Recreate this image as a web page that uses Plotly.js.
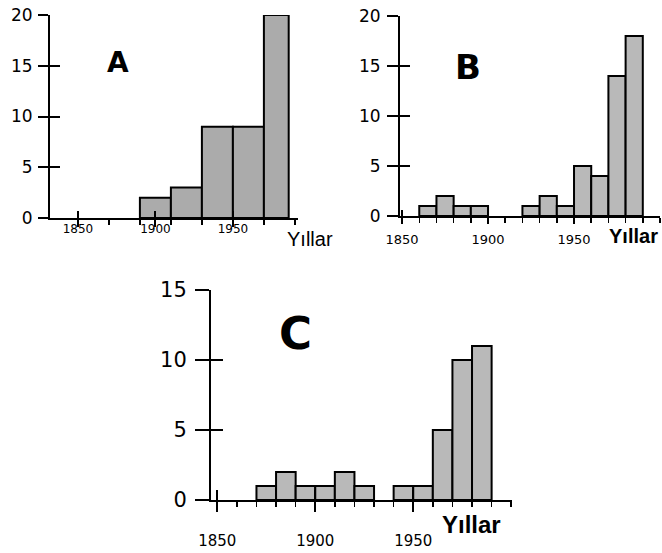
<!DOCTYPE html>
<html>
<head>
<meta charset="utf-8">
<script src="https://cdn.plot.ly/plotly-3.0.1.min.js"></script>
<style>html,body{margin:0;padding:0;background:#fff;}#chart{width:662px;height:553px;}</style>
</head>
<body>
<div id="chart"></div>
<script>
// ---- Data ----
const binStartA = [1890, 1910, 1930, 1950, 1970];
const binEndA   = [1910, 1930, 1950, 1970, 1986];
const countsA   = [2, 3, 9, 9, 20];

const binStartB = [1860, 1870, 1880, 1890, 1920, 1930, 1940, 1950, 1960, 1970, 1980];
const binEndB   = [1870, 1880, 1890, 1900, 1930, 1940, 1950, 1960, 1970, 1980, 1990];
const countsB   = [1, 2, 1, 1, 1, 2, 1, 5, 4, 14, 18];

const binStartC = [1870, 1880, 1890, 1900, 1910, 1920, 1940, 1950, 1960, 1970, 1980];
const binEndC   = [1880, 1890, 1900, 1910, 1920, 1930, 1950, 1960, 1970, 1980, 1990];
const countsC   = [1, 2, 1, 1, 2, 1, 1, 1, 5, 10, 11];

const xTickVals  = [1850, 1900, 1950];
const xTickText  = ['1850', '1900', '1950'];
const panelNames = ['A', 'B', 'C'];
const xTitle     = 'Yıllar';

// ---- Helpers ----
const W = 662, H = 553;
const px = v => v / W;
const py = v => 1 - v / H;

function barTrace(starts, ends, counts, xa, ya, color) {
  return {
    type: 'bar',
    x: starts.map((s, i) => (s + ends[i]) / 2),
    width: starts.map((s, i) => ends[i] - s),
    y: counts,
    xaxis: xa, yaxis: ya,
    marker: { color: color, line: { color: '#000', width: 2 } },
    hoverinfo: 'x+y', showlegend: false
  };
}
function emptyTrace(xa, ya) {
  return { type: 'scatter', mode: 'markers', x: [], y: [], xaxis: xa, yaxis: ya, showlegend: false, hoverinfo: 'skip' };
}

const traces = [
  barTrace(binStartA, binEndA, countsA, 'x', 'y', '#ababab'),
  barTrace(binStartB, binEndB, countsB, 'x2', 'y2', '#b9b9b9'),
  barTrace(binStartC, binEndC, countsC, 'x3', 'y3', '#b9b9b9'),
  emptyTrace('x4', 'y4'), emptyTrace('x5', 'y5'), emptyTrace('x6', 'y6')
];

const tickFont = 'DejaVu Sans, Arial, sans-serif';

function mainX(range, dom, anchor, fs, len, minorD, standoff) {
  return {
    domain: dom, range: range, anchor: anchor, showline: true, linecolor: '#000', linewidth: 2,
    showgrid: false, zeroline: false, fixedrange: true,
    tickmode: 'array', tickvals: xTickVals, ticktext: xTickText,
    ticks: 'outside', ticklen: len, tickwidth: 2, tickcolor: '#000',
    minor: { tick0: 1850, dtick: minorD, ticks: 'outside', ticklen: 5, tickwidth: 1.5, tickcolor: '#000', showgrid: false },
    tickfont: { family: tickFont, size: fs, color: '#000' }, ticklabelstandoff: standoff
  };
}
function mainY(range, dom, anchor, fs, len, standoff) {
  return {
    domain: dom, range: range, anchor: anchor, showline: true, linecolor: '#000', linewidth: 2,
    showgrid: false, zeroline: false, fixedrange: true,
    tick0: 0, dtick: 5, ticks: 'outside', ticklen: len, tickwidth: 2, tickcolor: '#000',
    tickfont: { family: tickFont, size: fs, color: '#000' }, ticklabelstandoff: standoff
  };
}
function overX(range, over, anchor, len) {
  return {
    overlaying: over, anchor: anchor, range: range, showline: false, showgrid: false, zeroline: false,
    tickmode: 'array', tickvals: xTickVals, ticks: 'inside', ticklen: len, tickwidth: 2, tickcolor: '#000',
    showticklabels: false, fixedrange: true
  };
}
function overY(range, over, anchor, len) {
  return {
    overlaying: over, anchor: anchor, range: range, showline: false, showgrid: false, zeroline: false,
    tick0: 0, dtick: 5, ticks: 'inside', ticklen: len, tickwidth: 2, tickcolor: '#000',
    showticklabels: false, fixedrange: true
  };
}

const rA = [1832, 1992], rB = [1848.8, 2000], rC = [1846.8, 2000.4];

const layout = {
  width: W, height: H,
  margin: { l: 0, r: 0, t: 0, b: 0 },
  paper_bgcolor: '#fff', plot_bgcolor: 'rgba(0,0,0,0)',
  showlegend: false, bargap: 0,
  xaxis:  mainX(rA, [px(50), px(298)], 'y', 12, 7, 20, -8),
  yaxis:  mainY([0, 20], [py(218), py(15)], 'x', 17, 10, 2),
  xaxis2: mainX(rB, [px(400), px(660)], 'y2', 13, 6, 10, 4),
  yaxis2: mainY([0, 20], [py(216), py(16)], 'x2', 17, 11, 3),
  xaxis3: mainX(rC, [px(211), px(512)], 'y3', 15, 10, 10, 16),
  yaxis3: mainY([0, 15], [py(500), py(290)], 'x3', 21, 14, 4),
  xaxis4: overX(rA, 'x', 'y4', 7),
  yaxis4: overY([0, 20], 'y', 'x4', 10),
  xaxis5: overX(rB, 'x2', 'y5', 6),
  yaxis5: overY([0, 20], 'y2', 'x5', 10),
  xaxis6: overX(rC, 'x3', 'y6', 10),
  yaxis6: overY([0, 15], 'y3', 'x6', 12),
  annotations: [
    { text: '<b>' + panelNames[0] + '</b>', x: px(118), y: py(63), xref: 'paper', yref: 'paper', showarrow: false, xanchor: 'center', yanchor: 'middle', font: { family: 'DejaVu Sans, Arial', size: 28, color: '#000' } },
    { text: '<b>' + panelNames[1] + '</b>', x: px(468), y: py(67), xref: 'paper', yref: 'paper', showarrow: false, xanchor: 'center', yanchor: 'middle', font: { family: 'DejaVu Sans, Arial', size: 34, color: '#000' } },
    { text: '<b>' + panelNames[2] + '</b>', x: px(295), y: py(333), xref: 'paper', yref: 'paper', showarrow: false, xanchor: 'center', yanchor: 'middle', font: { family: 'DejaVu Sans, Arial', size: 45, color: '#000' } },
    { text: xTitle, x: px(285), y: py(239), xref: 'paper', yref: 'paper', showarrow: false, xanchor: 'left', yanchor: 'middle', font: { family: 'Liberation Sans, Arial', size: 20, color: '#000' } },
    { text: '<b>' + xTitle + '</b>', x: px(660), y: py(236), xref: 'paper', yref: 'paper', showarrow: false, xanchor: 'right', yanchor: 'middle', font: { family: 'Liberation Sans, Arial', size: 20, color: '#000' } },
    { text: '<b>' + xTitle + '</b>', x: px(472), y: py(524), xref: 'paper', yref: 'paper', showarrow: false, xanchor: 'center', yanchor: 'middle', font: { family: 'Liberation Sans, Arial', size: 24, color: '#000' } }
  ]
};

Plotly.newPlot('chart', traces, layout, { staticPlot: true, displayModeBar: false });
</script>
</body>
</html>
